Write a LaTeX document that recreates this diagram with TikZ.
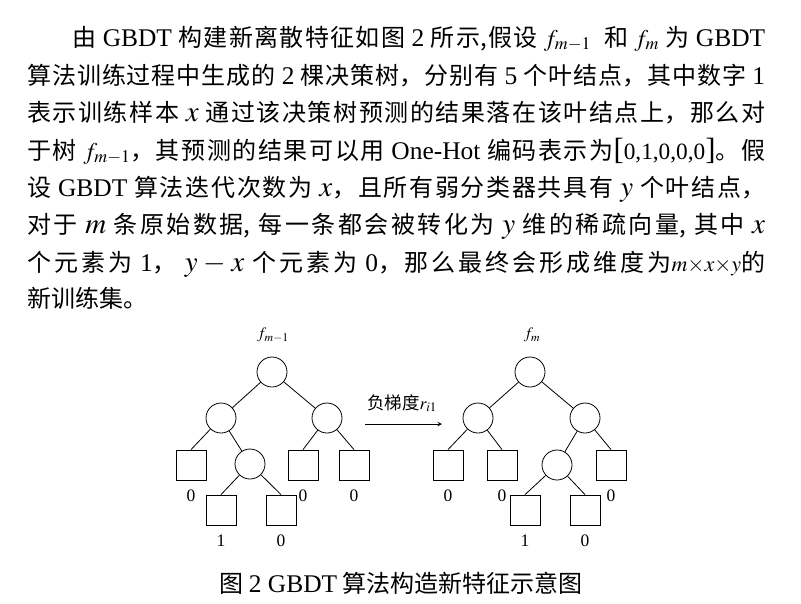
\documentclass[tikz,border=0pt]{standalone}
\usepackage{mathptmx}
\usepackage[no-math]{fontspec}
\setmainfont{Noto Sans CJK SC}
\newfontfamily\tnr[Scale=1.06]{Liberation Serif}
\usetikzlibrary{positioning}
\XeTeXlinebreaklocale "zh"
\XeTeXlinebreakskip=0pt plus 3pt minus 0.3pt
\newcommand{\largevar}[1]{{\fontsize{29}{29}\selectfont$#1$}}
\newcommand{\jline}[2]{\parbox[b]{#1}{\parfillskip=0pt\relax #2}}
\newcommand{\bigbrack}[1]{{\tnr\fontsize{29}{29}\selectfont[}{\tnr\fontsize{22}{22}\selectfont #1}{\tnr\fontsize{29}{29}\selectfont]}}

\begin{document}
\begin{tikzpicture}[x=1pt, y=-1pt,
     mycircle/.style={circle, draw, line width=0.8pt, minimum size=30pt, inner sep=0pt},
     mybox/.style={rectangle, draw, line width=0.8pt, minimum size=30pt, inner sep=0pt},
     myleafval/.style={inner sep=0pt, text depth=0pt, font=\tnr\fontsize{16.5}{17}\selectfont},
     mytextline/.style={anchor=base west, inner sep=0pt, font=\fontsize{24}{37}\selectfont}
 ]
 \useasboundingbox (0,0) rectangle (801,603);

 % paragraph, one node per printed line
 \node[mytextline] (line1) at (72,46) {\jline{693pt}{由 {\tnr GBDT} 构建新离散特征如图 {\tnr 2} 所示,假设 $f_{m-1}$ \ 和 $f_m$ 为 {\tnr GBDT}}};
 \node[mytextline] (line2) at (27,84) {\jline{738pt}{算法训练过程中生成的 {\tnr 2} 棵决策树，分别有 {\tnr 5} 个叶结点，其中数字 {\tnr 1}}};
 \node[mytextline] (line3) at (27,121) {\jline{738pt}{表示训练样本 \largevar{x} 通过该决策树预测的结果落在该叶结点上，那么对}};
 \node[mytextline] (line4) at (27,159) {\jline{738pt}{于树 $f_{m-1}$，其预测的结果可以用 {\tnr One-Hot} 编码表示为\bigbrack{0,1,0,0,0}。假}};
 \node[mytextline] (line5) at (27,196) {\jline{738pt}{设 {\tnr GBDT} 算法迭代次数为 \largevar{x}，且所有弱分类器共具有 \largevar{y} 个叶结点，}};
 \node[mytextline] (line6) at (27,233) {\jline{738pt}{对于 \largevar{m} 条原始数据, 每一条都会被转化为 \largevar{y} 维的稀疏向量, 其中 \largevar{x}}};
 \node[mytextline] (line7) at (27,271) {\jline{738pt}{个元素为 {\tnr 1}， \largevar{y-x} 个元素为 {\tnr 0}，那么最终会形成维度为{\fontsize{22}{22}\selectfont$m{\times}x{\times}y$}的}};
 \node[mytextline] (line8) at (27,307) {新训练集。};

 % tree f_{m-1}
 \node[font=\fontsize{16}{16}\selectfont] (lname) at (273,335) {$f_{m-1}$};
 \node[mycircle] (lroot) at (272,372) {};
 \node[mycircle] (lleft) at (221,418) {};
 \node[mycircle] (lright) at (327,418) {};
 \node[mycircle] (lmid) at (250,464) {};
 \node[mybox] (lleaf1) at (191,465) {};
 \node[mybox] (lleaf2) at (221,510) {};
 \node[mybox] (lleaf3) at (281,510) {};
 \node[mybox] (lleaf4) at (303,465) {};
 \node[mybox] (lleaf5) at (354,465) {};

 % tree f_m
 \node[font=\fontsize{16}{16}\selectfont] (rname) at (532,335) {$f_m$};
 \node[mycircle] (rroot) at (530,372) {};
 \node[mycircle] (rleft) at (478,418) {};
 \node[mycircle] (rright) at (585,418) {};
 \node[mycircle] (rmid) at (557,465) {};
 \node[mybox] (rleaf1) at (448,465) {};
 \node[mybox] (rleaf2) at (502,465) {};
 \node[mybox] (rleaf3) at (525,510) {};
 \node[mybox] (rleaf4) at (585,510) {};
 \node[mybox] (rleaf5) at (611,465) {};

 \foreach \a/\b in {lroot/lleft, lroot/lright, lleft/lmid, rroot/rleft, rroot/rright, rright/rmid}
     \draw[line width=0.8pt] (\a) -- (\b);
 \foreach \a/\b in {lleft/lleaf1, lmid/lleaf2, lmid/lleaf3, lright/lleaf4, lright/lleaf5,
                    rleft/rleaf1, rleft/rleaf2, rmid/rleaf3, rmid/rleaf4, rright/rleaf5}
     \draw[line width=0.8pt] (\a) -- (\b.north);

 % one-hot values under the leaves
 \foreach \leaf/\val in {1/0, 2/1, 3/0, 4/0, 5/0}
     \node[myleafval, below=9pt of lleaf\leaf] (lval\leaf) {\val};
 \foreach \leaf/\val in {1/0, 2/0, 3/1, 4/0, 5/0}
     \node[myleafval, below=9pt of rleaf\leaf] (rval\leaf) {\val};

 % gradient arrow
 \coordinate (arrowstart) at (365,424);
 \coordinate (arrowend) at (442,424);
 \draw[line width=1pt, -stealth] (arrowstart) -- (arrowend);
 \node[font=\fontsize{17.5}{17.5}\selectfont] (arrowlabel) at (402,403) {负梯度$r_{i1}$};

 % caption
 \node[font=\fontsize{24}{24}\selectfont] (caption) at (401,583) {图 {\tnr 2 GBDT} 算法构造新特征示意图};
\end{tikzpicture}
\end{document}
